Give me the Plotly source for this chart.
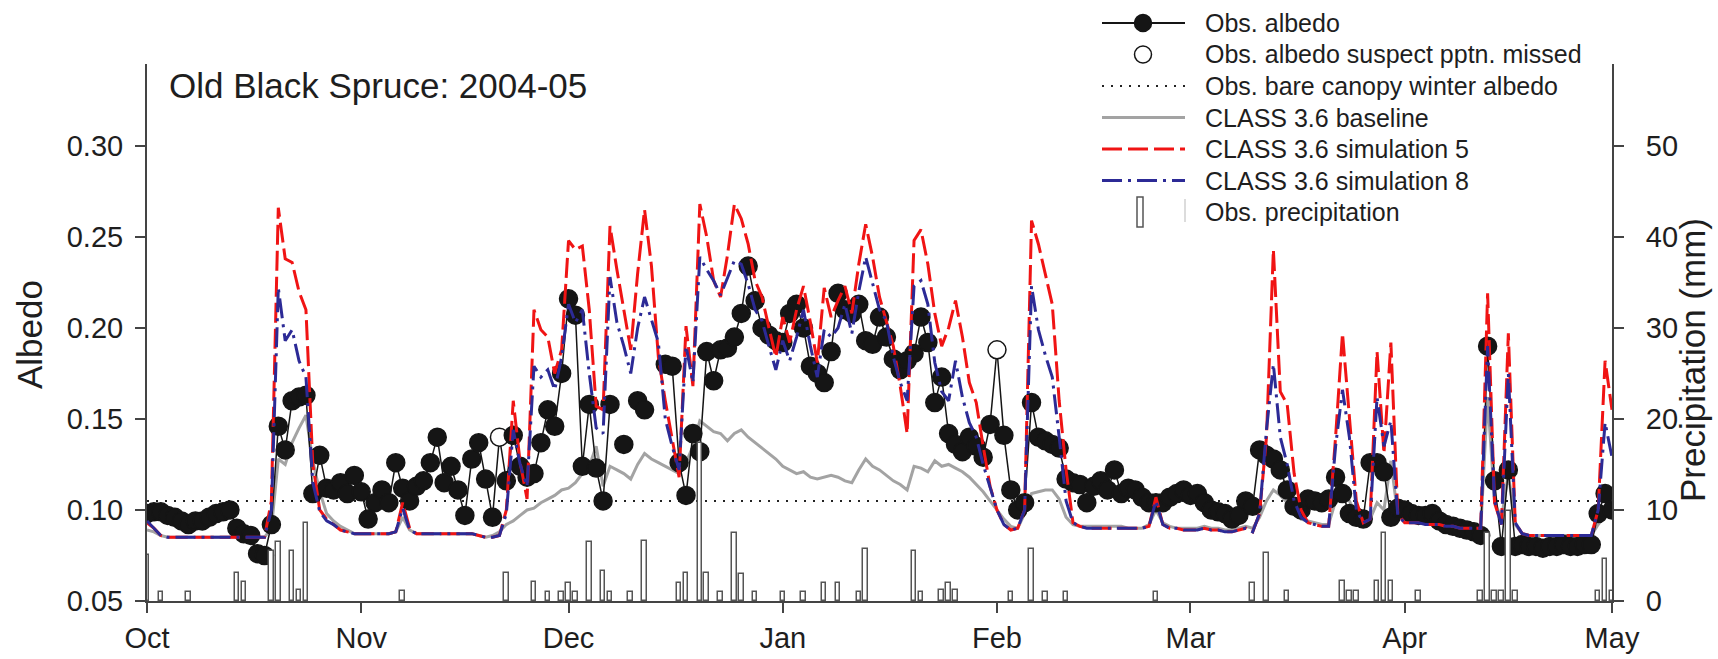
import pandas as pd
import plotly.graph_objects as go

# ---------------------------------------------------------------- data
START = "2004-10-01"
END = "2005-05-01"

# Daily observed albedo, Oct 1 2004 .. May 1 2005 (None = no observation)
obs_albedo = (
    # Oct
    [0.098, 0.099, 0.099, 0.097, 0.096, 0.094, 0.092, 0.094, 0.094, 0.096,
     0.098, 0.099, 0.100, 0.090, 0.087, 0.086, 0.076, 0.075, 0.092, 0.146,
     0.133, 0.160, 0.162, 0.163, 0.109, 0.130, 0.112, 0.111, 0.115, 0.109,
     0.119]
    # Nov
    + [0.110, 0.095, 0.104, 0.111, 0.104, 0.126, 0.112, 0.105, 0.113,
       0.116, 0.126, 0.140, 0.115, 0.124, 0.111, 0.097, 0.128, 0.137, 0.117,
       0.096, 0.140, 0.116, 0.141, 0.124, 0.118, 0.120, 0.137, 0.155, 0.146,
       0.175]
    # Dec
    + [0.216, 0.207, 0.124, 0.158, 0.123, 0.105, 0.158, None, 0.136,
       None, 0.160, 0.155, None, None, 0.180, 0.179, 0.126, 0.108, 0.142,
       0.132, 0.187, 0.171, 0.188, 0.189, 0.195, 0.208, 0.234, 0.215, 0.200,
       0.196, 0.193]
    # Jan
    + [0.192, 0.208, 0.213, 0.200, 0.179, 0.175, 0.170, 0.187,
       0.219, 0.210, 0.208, 0.213, 0.193, 0.191, 0.206, 0.195, 0.183, 0.177,
       0.182, 0.186, 0.206, 0.192, 0.159, 0.173, 0.142, 0.136, 0.132, 0.140,
       0.135, 0.129, 0.147]
    # Feb
    + [0.188, 0.141, 0.111, 0.100, 0.104, 0.159, 0.140,
       0.138, 0.136, 0.134, 0.117, 0.115, 0.114, 0.104, 0.113, 0.116, 0.111,
       0.122, 0.109, 0.112, 0.111, 0.107, 0.104, 0.104, 0.104, 0.107, 0.109,
       0.111]
    # Mar
    + [0.108, 0.109, 0.104, 0.100, 0.099, 0.098, 0.095, 0.097, 0.105,
       0.102, 0.133, 0.130, 0.128, 0.122, 0.111, 0.102, 0.100, 0.106, 0.105,
       0.104, 0.106, 0.118, 0.109, 0.098, 0.096, 0.095, 0.126, 0.126, 0.121,
       0.096, 0.101]
    # Apr
    + [0.100, 0.098, 0.097, 0.097, 0.098, 0.094, 0.092, 0.091,
       0.090, 0.089, 0.088, 0.086, 0.190, 0.116, 0.080, 0.122, 0.080, 0.081,
       0.080, 0.080, 0.079, 0.080, 0.080, 0.081, 0.080, 0.080, 0.081, 0.081,
       0.098, 0.109]
    # May
    + [0.100]
)

# Day offsets (from Oct 1) of observations suspected of missed precipitation
suspect_days = [51, 123]

# CLASS 3.6 simulation 5
sim5 = (
    [0.093, 0.090, 0.086, 0.085, 0.085, 0.085, 0.085, 0.085, 0.085, 0.085,
     0.085, 0.085, 0.085, 0.085, 0.085, 0.085, 0.085, 0.085, 0.105, 0.266,
     0.238, 0.236, 0.220, 0.210, 0.125, 0.100, 0.095, 0.092, 0.089, 0.088,
     0.087]
    + [0.087, 0.087, 0.087, 0.087, 0.087, 0.088, 0.104, 0.090, 0.087,
       0.087, 0.087, 0.087, 0.087, 0.087, 0.087, 0.087, 0.087, 0.086, 0.085,
       0.085, 0.086, 0.100, 0.160, 0.126, 0.106, 0.210, 0.199, 0.195, 0.175,
       0.188]
    + [0.248, 0.243, 0.245, 0.210, 0.157, 0.155, 0.256, 0.232, 0.210,
       0.188, 0.230, 0.265, 0.234, 0.184, 0.160, 0.140, 0.118, 0.201, 0.168,
       0.268, 0.250, 0.226, 0.217, 0.240, 0.268, 0.260, 0.246, 0.226, 0.217,
       0.200, 0.184]
    + [0.206, 0.192, 0.210, 0.223, 0.203, 0.181, 0.222, 0.206,
       0.215, 0.223, 0.208, 0.235, 0.257, 0.239, 0.217, 0.204, 0.190, 0.168,
       0.142, 0.248, 0.254, 0.235, 0.208, 0.190, 0.200, 0.215, 0.195, 0.170,
       0.159, 0.135, 0.113]
    + [0.100, 0.092, 0.089, 0.090, 0.100, 0.259, 0.246,
       0.230, 0.213, 0.160, 0.122, 0.093, 0.091, 0.090, 0.090, 0.090, 0.090,
       0.090, 0.090, 0.090, 0.090, 0.090, 0.091, 0.107, 0.092, 0.090, 0.090,
       0.089]
    + [0.089, 0.089, 0.090, 0.089, 0.089, 0.088, 0.088, 0.089, 0.090,
       0.088, 0.098, 0.140, 0.243, 0.165, 0.158, 0.120, 0.100, 0.093, 0.092,
       0.091, 0.091, 0.140, 0.197, 0.150, 0.105, 0.093, 0.095, 0.187, 0.131,
       0.192, 0.098]
    + [0.093, 0.093, 0.093, 0.092, 0.092, 0.092, 0.091, 0.091,
       0.090, 0.090, 0.090, 0.090, 0.219, 0.104, 0.092, 0.197, 0.093, 0.087,
       0.086, 0.086, 0.086, 0.086, 0.086, 0.086, 0.086, 0.086, 0.086, 0.086,
       0.100, 0.182]
    + [0.155]
)

# CLASS 3.6 simulation 8
sim8 = (
    [0.094, 0.090, 0.086, 0.085, 0.085, 0.085, 0.085, 0.085, 0.085, 0.085,
     0.085, 0.085, 0.085, 0.085, 0.085, 0.085, 0.085, 0.085, 0.100, 0.222,
     0.193, 0.199, 0.182, 0.173, 0.115, 0.099, 0.094, 0.092, 0.089, 0.088,
     0.087]
    + [0.087, 0.087, 0.087, 0.087, 0.087, 0.088, 0.101, 0.089, 0.087,
       0.087, 0.087, 0.087, 0.087, 0.087, 0.087, 0.087, 0.087, 0.086, 0.085,
       0.085, 0.086, 0.098, 0.144, 0.125, 0.113, 0.179, 0.173, 0.177, 0.166,
       0.184]
    + [0.213, 0.203, 0.210, 0.175, 0.145, 0.142, 0.228, 0.203, 0.190,
       0.175, 0.200, 0.217, 0.205, 0.192, 0.150, 0.135, 0.122, 0.190, 0.170,
       0.239, 0.232, 0.226, 0.218, 0.228, 0.237, 0.235, 0.224, 0.210, 0.204,
       0.190, 0.177]
    + [0.193, 0.182, 0.195, 0.210, 0.190, 0.173, 0.199, 0.195,
       0.200, 0.213, 0.197, 0.220, 0.239, 0.224, 0.210, 0.204, 0.184, 0.170,
       0.160, 0.223, 0.226, 0.213, 0.181, 0.165, 0.160, 0.182, 0.162, 0.148,
       0.140, 0.125, 0.112]
    + [0.100, 0.092, 0.089, 0.090, 0.100, 0.223, 0.199,
       0.185, 0.173, 0.140, 0.105, 0.093, 0.091, 0.090, 0.090, 0.090, 0.090,
       0.090, 0.090, 0.090, 0.090, 0.090, 0.091, 0.105, 0.092, 0.090, 0.090,
       0.089]
    + [0.089, 0.089, 0.090, 0.089, 0.089, 0.088, 0.088, 0.089, 0.090,
       0.088, 0.098, 0.144, 0.180, 0.140, 0.125, 0.105, 0.096, 0.093, 0.092,
       0.091, 0.091, 0.135, 0.166, 0.140, 0.100, 0.093, 0.095, 0.162, 0.135,
       0.149, 0.097]
    + [0.093, 0.093, 0.093, 0.092, 0.092, 0.092, 0.091, 0.091,
       0.090, 0.090, 0.090, 0.090, 0.190, 0.105, 0.092, 0.175, 0.093, 0.087,
       0.086, 0.086, 0.086, 0.086, 0.086, 0.086, 0.086, 0.086, 0.086, 0.086,
       0.100, 0.148]
    + [0.129]
)

# CLASS 3.6 baseline
baseline = (
    [0.089, 0.088, 0.086, 0.085, 0.085, 0.085, 0.085, 0.085, 0.085, 0.085,
     0.085, 0.085, 0.085, 0.085, 0.085, 0.085, 0.085, 0.085, 0.090, 0.128,
     0.125, 0.137, 0.145, 0.152, 0.127, 0.110, 0.098, 0.094, 0.091, 0.089,
     0.087]
    + [0.087, 0.087, 0.087, 0.087, 0.087, 0.088, 0.096, 0.089, 0.087,
       0.087, 0.087, 0.087, 0.087, 0.087, 0.087, 0.087, 0.087, 0.086, 0.085,
       0.086, 0.088, 0.092, 0.094, 0.097, 0.100, 0.101, 0.104, 0.106, 0.108,
       0.111]
    + [0.112, 0.115, 0.120, 0.124, 0.135, 0.113, 0.124, 0.122, 0.120,
       0.117, 0.125, 0.131, 0.128, 0.126, 0.124, 0.122, 0.120, 0.126, 0.135,
       0.149, 0.146, 0.143, 0.142, 0.138, 0.142, 0.144, 0.140, 0.137, 0.134,
       0.131, 0.128]
    + [0.124, 0.122, 0.120, 0.121, 0.118, 0.117, 0.118, 0.119,
       0.118, 0.116, 0.115, 0.122, 0.128, 0.124, 0.122, 0.119, 0.116, 0.114,
       0.111, 0.124, 0.123, 0.121, 0.127, 0.124, 0.125, 0.123, 0.121, 0.118,
       0.114, 0.110, 0.105]
    + [0.100, 0.095, 0.091, 0.090, 0.098, 0.109, 0.110,
       0.111, 0.111, 0.106, 0.096, 0.092, 0.091, 0.091, 0.091, 0.091, 0.091,
       0.091, 0.091, 0.090, 0.090, 0.090, 0.092, 0.100, 0.093, 0.091, 0.090,
       0.090]
    + [0.090, 0.090, 0.091, 0.090, 0.090, 0.089, 0.089, 0.090, 0.091,
       0.090, 0.096, 0.105, 0.111, 0.108, 0.104, 0.100, 0.095, 0.094, 0.093,
       0.092, 0.092, 0.105, 0.111, 0.105, 0.097, 0.094, 0.095, 0.104, 0.100,
       0.127, 0.097]
    + [0.094, 0.094, 0.093, 0.093, 0.092, 0.091, 0.091, 0.090,
       0.090, 0.089, 0.089, 0.089, 0.162, 0.105, 0.095, 0.120, 0.092, 0.087,
       0.086, 0.086, 0.086, 0.086, 0.086, 0.086, 0.086, 0.086, 0.086, 0.086,
       0.092, 0.097]
    + [0.100]
)

# Observed bare-canopy winter albedo
bare_canopy_albedo = 0.105

# Daily precipitation (mm), by day offset from Oct 1
precip_days = [0, 2, 6, 13, 14, 18, 19, 21, 22, 23,
               37, 52, 56, 58, 60, 61, 62, 64, 66, 67,
               70, 72, 77, 78, 80, 81, 83, 85, 86, 88,
               92, 95, 98, 100, 103, 104, 111, 112, 115, 116,
               117, 125, 128, 130, 133, 146, 160, 162, 165, 173,
               174, 175, 178, 179, 180, 184, 193, 194, 195, 196,
               197, 198, 210, 211, 212]
precip_mm = [5.0, 1.0, 1.0, 3.1, 2.1, 5.5, 6.5, 5.5, 1.2, 8.6,
             1.1, 3.1, 2.1, 1.0, 1.0, 2.0, 1.0, 6.5, 3.3, 1.0,
             1.0, 6.6, 2.0, 3.1, 17.4, 3.1, 1.0, 7.5, 3.0, 1.0,
             1.0, 1.0, 2.0, 2.0, 1.0, 5.7, 5.5, 1.0, 1.2, 2.0,
             1.2, 1.0, 5.7, 1.0, 1.0, 1.0, 2.0, 5.3, 1.1, 2.2,
             1.1, 1.1, 2.2, 7.5, 2.2, 1.1, 1.1, 7.5, 1.1, 1.1,
             9.9, 1.1, 1.1, 4.6, 1.1]

month_ticks = ["2004-10-01", "2004-11-01", "2004-12-01", "2005-01-01",
               "2005-02-01", "2005-03-01", "2005-04-01", "2005-05-01"]
month_labels = ["Oct", "Nov", "Dec", "Jan", "Feb", "Mar", "Apr", "May"]
albedo_ticks = [0.05, 0.10, 0.15, 0.20, 0.25, 0.30]
precip_ticks = [0, 10, 20, 30, 40, 50]

# ---------------------------------------------------------------- styles
W, H = 1718, 659
L, R, T, B = 147, 106, 64, 58
FONT = "Liberation Sans, Arial, Helvetica, sans-serif"
INK = "#1e1e1e"
AXIS = "#444444"
RED = "#f01414"
BLUE = "#2c2a96"
GRAY = "#a3a3a3"
DOT_DASH = "2px,7px"
RED_DASH = "20px,6px"
BLUE_DASH = "20px,6px,3px,6px"

dates = pd.date_range(START, periods=len(obs_albedo), freq="D")
day_ms = 86400000

fig = go.Figure()

# bare canopy reference line
fig.add_trace(go.Scatter(
    x=[START, END], y=[bare_canopy_albedo, bare_canopy_albedo],
    mode="lines", line=dict(color="#222", width=2, dash=DOT_DASH),
    hoverinfo="skip"))

# baseline simulation
fig.add_trace(go.Scatter(
    x=dates, y=baseline, mode="lines",
    line=dict(color=GRAY, width=3)))

# observations
marker_fill = ["white" if i in suspect_days else "#151515"
               for i in range(len(obs_albedo))]
fig.add_trace(go.Scatter(
    x=dates, y=obs_albedo, mode="lines+markers",
    line=dict(color="#151515", width=1.5),
    marker=dict(size=18, color=marker_fill,
                line=dict(color="#151515", width=1.5))))

# simulations 5 and 8
fig.add_trace(go.Scatter(
    x=dates, y=sim5, mode="lines",
    line=dict(color=RED, width=3, dash=RED_DASH)))
fig.add_trace(go.Scatter(
    x=dates, y=sim8, mode="lines",
    line=dict(color=BLUE, width=3, dash=BLUE_DASH)))

# precipitation bars on the right axis
fig.add_trace(go.Bar(
    x=[dates[d] for d in precip_days], y=precip_mm, yaxis="y2",
    width=0.65 * day_ms,
    marker=dict(color="white", line=dict(color="#555555", width=1.5))))

axis_common = dict(
    showline=True, linecolor=AXIS, linewidth=2,
    ticks="outside", ticklen=10, tickwidth=2, tickcolor=AXIS,
    showgrid=False, zeroline=False,
    tickfont=dict(family=FONT, size=29, color=INK),
)

fig.update_layout(
    width=W, height=H,
    margin=dict(l=L, r=R, t=T, b=B, autoexpand=False),
    paper_bgcolor="white", plot_bgcolor="white",
    showlegend=False, bargap=0,
    font=dict(family=FONT, color=INK),
    xaxis=dict(type="date", range=[START, END],
               tickmode="array", tickvals=month_ticks, ticktext=month_labels,
               ticklabelstandoff=0, **axis_common),
    yaxis=dict(range=[0.05, 0.345], tickmode="array", tickvals=albedo_ticks,
               tickformat=".2f", ticklabelstandoff=6, **axis_common),
    yaxis2=dict(range=[0, 59], overlaying="y", side="right",
                tickmode="array", tickvals=precip_ticks,
                ticklabelstandoff=16, **axis_common),
)


# ---------------------------------------------------------------- text & legend
def px(xpix):
    return (xpix - L) / (W - L - R)


def py(ypix):
    return (H - B - ypix) / (H - T - B)


def label(text, xpix, ypix, size, angle=0, xanchor="left"):
    return dict(text=text, xref="paper", yref="paper",
                x=px(xpix), y=py(ypix), textangle=angle,
                xanchor=xanchor, yanchor="middle", showarrow=False,
                font=dict(family=FONT, size=size, color=INK))


annotations = [
    label("Old Black Spruce: 2004-05", 167, 86, 35),
    label("Albedo", 29, 335, 35, angle=-90, xanchor="center"),
    label("Precipitation (mm)", 1692, 360, 35, angle=-90, xanchor="center"),
]

legend_labels = ["Obs. albedo", "Obs. albedo suspect pptn. missed",
                 "Obs. bare canopy winter albedo", "CLASS 3.6 baseline",
                 "CLASS 3.6 simulation 5", "CLASS 3.6 simulation 8",
                 "Obs. precipitation"]
ROW0, ROW_DY = 23, 31.5
SX0, SX1, SXC, TX = 1102, 1185, 1143, 1203
rows = [ROW0 + ROW_DY * i for i in range(len(legend_labels))]

for text, yrow in zip(legend_labels, rows):
    annotations.append(label(text, TX, yrow, 25))

shapes = []


def leg_line(yrow, color, width, dash="solid"):
    shapes.append(dict(type="line", xref="paper", yref="paper",
                       x0=px(SX0), x1=px(SX1), y0=py(yrow), y1=py(yrow),
                       line=dict(color=color, width=width, dash=dash)))


def leg_circle(yrow, fill):
    shapes.append(dict(type="circle", xref="paper", yref="paper",
                       xsizemode="pixel", ysizemode="pixel",
                       xanchor=px(SXC), yanchor=py(yrow),
                       x0=-8.5, x1=8.5, y0=-8.5, y1=8.5,
                       fillcolor=fill, line=dict(color="#151515", width=1.5)))


leg_line(rows[0], "#151515", 2)
leg_circle(rows[0], "#151515")
leg_circle(rows[1], "white")
leg_line(rows[2], "#222", 2, DOT_DASH)
leg_line(rows[3], GRAY, 3)
leg_line(rows[4], RED, 3, RED_DASH)
leg_line(rows[5], BLUE, 3, BLUE_DASH)
shapes.append(dict(type="rect", xref="paper", yref="paper",
                   x0=px(1137), x1=px(1143), y0=py(rows[6] + 15),
                   y1=py(rows[6] - 15), fillcolor="white",
                   line=dict(color="#555555", width=1.5)))
shapes.append(dict(type="line", xref="paper", yref="paper",
                   x0=px(1185), x1=px(1185), y0=py(rows[6] + 10),
                   y1=py(rows[6] - 13), line=dict(color="#d0d0d0", width=1.5)))

fig.update_layout(annotations=annotations, shapes=shapes)

fig.write_html("out.html")
